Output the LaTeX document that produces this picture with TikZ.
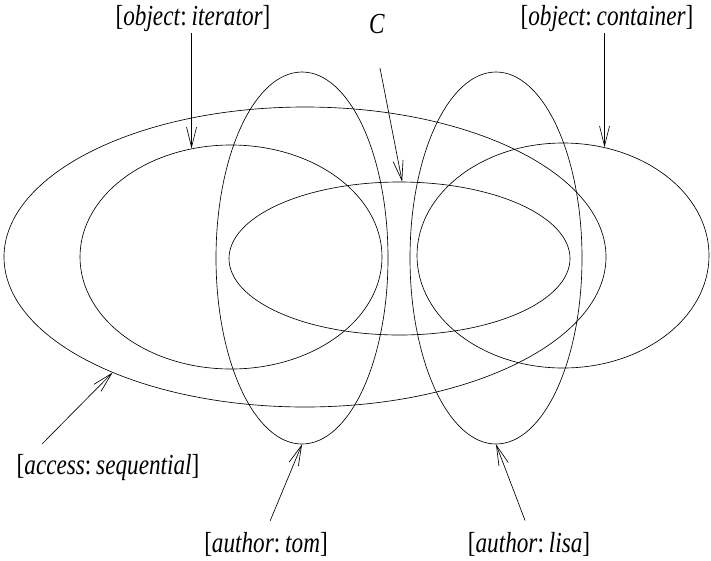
\documentclass[tikz,border=0pt]{standalone}
\usepackage{fontspec}
\setmainfont[FakeStretch=0.8]{Liberation Serif}
\usetikzlibrary{arrows.meta,shapes.geometric}

\begin{document}
\begin{tikzpicture}[x=1pt,y=-1pt,
  set/.style={draw,ellipse,inner sep=0pt,line width=0.65pt},
  lbl/.style={font=\fontsize{29}{32}\selectfont,inner sep=1pt},
  arr/.style={-{Straight Barb[length=20pt,width=10pt]},line width=0.65pt}
]
  \useasboundingbox (0,0) rectangle (711,560);
  % the sets
  \node[set,minimum width=602pt,minimum height=300pt] (sequential) at (305,257) {};
  \node[set,minimum width=302pt,minimum height=224pt] (iterator) at (231,257) {};
  \node[set,minimum width=292pt,minimum height=225pt] (container) at (563,255.5) {};
  \node[set,minimum width=341pt,minimum height=153pt] (cset) at (399.5,258.5) {};
  \node[set,minimum width=172pt,minimum height=372pt] (tom) at (302,258) {};
  \node[set,minimum width=172pt,minimum height=372pt] (lisa) at (496,258) {};
  % labels
  \node[lbl] (iterlabel) at (193,19) {[\textit{object}:\,\textit{iterator}]};
  \node[lbl] (clabel) at (377,24) {\textit{C}};
  \node[lbl] (contlabel) at (607,19) {[\textit{object}:\,\textit{container}]};
  \node[lbl] (acclabel) at (108,468) {[\textit{access}:\,\textit{sequential}]};
  \node[lbl] (tomlabel) at (266,544) {[\textit{author}:\,\textit{tom}]};
  \node[lbl] (lisalabel) at (529,544) {[\textit{author}:\,\textit{lisa}]};
  \coordinate (ctail) at (380,68);
  \coordinate (acctail) at (42,444);
  % arrows
  \draw[arr] (iterlabel.south -| iterator.110) -- (iterator.110);
  \draw[arr] (contlabel.south -| container.69) -- (container.69);
  \draw[arr] (ctail) -- (cset.88);
  \draw[arr] (acctail) -- (sequential.211);
  \draw[arr,shorten <=11pt] (tomlabel.north) -- (tom.south);
  \draw[arr,shorten <=11pt] (lisalabel.north) -- (lisa.south);
\end{tikzpicture}
\end{document}
